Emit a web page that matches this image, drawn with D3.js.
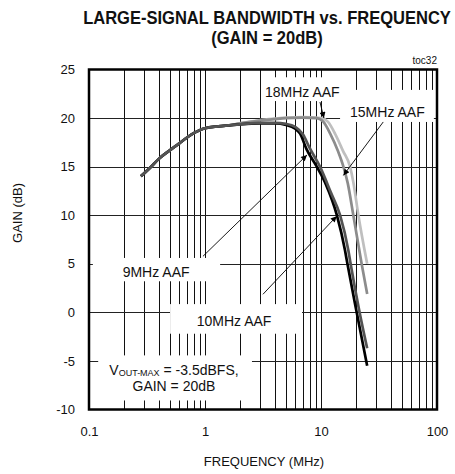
<!DOCTYPE html>
<html><head><meta charset="utf-8">
<script src="https://cdn.jsdelivr.net/npm/d3@7"></script>
<style>
body{margin:0;background:#fff}
svg{display:block}
text{font-family:"Liberation Sans",Arial,sans-serif;fill:#111}
</style>
</head><body>
<script>
// ---------- DATA (frequency MHz, gain dB) ----------
const aaf9MHz = [[0.28,14.0],[0.35,15.1],[0.4,15.8],[0.5,16.7],[0.6,17.4],[0.7,18.0],[0.8,18.45],[0.9,18.75],[1.0,18.95],[1.3,19.15],[1.6,19.25],[2.0,19.35],[3,19.45],[4,19.45],[5,19.3],[6,18.9],[6.6,18.4],[7.5,16.8],[9.2,15.0],[11,13.2],[13.7,10.0],[16.1,6.4],[16.9,5.0],[20.3,0.0],[25,-5.5]];
const aaf10MHz = [[0.28,14.0],[0.35,15.1],[0.4,15.8],[0.5,16.7],[0.6,17.4],[0.7,18.0],[0.8,18.45],[0.9,18.75],[1.0,18.95],[1.3,19.15],[1.6,19.25],[2.0,19.35],[3,19.5],[4,19.5],[5,19.4],[6,19.1],[7,18.3],[8,16.9],[9.8,15.0],[12.2,12.3],[14.6,10.0],[17.2,6.4],[18.0,5.0],[21.5,0.0],[25,-3.7]];
const aaf15MHz = [[0.28,14.0],[0.35,15.1],[0.4,15.8],[0.5,16.7],[0.6,17.4],[0.7,18.0],[0.8,18.45],[0.9,18.75],[1.0,18.95],[1.3,19.15],[1.6,19.25],[2.0,19.45],[3,19.75],[4,19.9],[5,20.0],[7,20.05],[9.2,20.0],[10.5,19.6],[12,18.4],[14,16.6],[15.6,15.0],[17,13.3],[19,10.0],[22.4,5.0],[25,1.9]];
const aaf18MHz = [[0.28,14.0],[0.35,15.1],[0.4,15.8],[0.5,16.7],[0.6,17.4],[0.7,18.0],[0.8,18.45],[0.9,18.75],[1.0,18.95],[1.3,19.15],[1.6,19.25],[2.0,19.45],[3,19.8],[4,19.95],[5,20.05],[7,20.1],[10.1,20.0],[11.5,19.6],[13.2,18.4],[15.5,16.6],[17.8,15.0],[19,13.4],[21,10.0],[25,5.0]];

const xTickValues = [0.1, 1, 10, 100];
const xTickLabels = ["0.1", "1", "10", "100"];
const yTickValues = [-10, -5, 0, 5, 10, 15, 20, 25];
const yTickLabels = ["-10", "-5", "0", "5", "10", "15", "20", "25"];

const titleLines = ["LARGE-SIGNAL BANDWIDTH vs. FREQUENCY", "(GAIN = 20dB)"];
const xTitle = "FREQUENCY (MHz)";
const yTitle = "GAIN (dB)";
const figId = "toc32";

// series drawing order & style
const seriesList = [
  {name:"18MHz AAF", data: aaf18MHz, color:"#bfbfbf"},
  {name:"15MHz AAF", data: aaf15MHz, color:"#8c8c8c"},
  {name:"9MHz AAF",  data: aaf9MHz,  color:"#000000"},
  {name:"10MHz AAF", data: aaf10MHz, color:"#535353"}
];

// annotations in data units
const labelBoxes = [
  {text:"18MHz AAF", f0:3.10, f1:15.5, g0:24.2, g1:21.75, tf:3.29, tg:22.2},
  {text:"15MHz AAF", f0:14.6, f1:94,   g0:22.9, g1:19.6,  tf:17.8, tg:20.15},
  {text:"9MHz AAF",  f0:0.108,f1:1.35, g0:5.6,  g1:3.2,   tf:0.195,tg:3.6},
  {text:"10MHz AAF", f0:0.50, f1:6.86, g0:0.85, g1:-2.2,  tf:0.848,tg:-1.45}
];
const arrows = [
  {f0:9.8,  g0:21.65, f1:10.6, g1:20.0},
  {f0:34.4, g0:19.6,  f1:15.6, g1:14.1},
  {f0:0.96, g0:5.77,  f1:7.57, g1:16.2},
  {f0:3.16, g0:1.86,  f1:13.65,g1:9.9}
];
const noteBox = {f0:0.12, f1:2.54, g0:-4.43, g1:-9.07, cf:0.54, g1line:-6.45, g2line:-8.1};

// ---------- LAYOUT ----------
const W = 455, H = 474;
const margin = {left:89, top:69.5, right:18, bottom:64.5};
const x = d3.scaleLog().domain([0.1, 100]).range([margin.left, W - margin.right]);
const y = d3.scaleLinear().domain([-10, 25]).range([H - margin.bottom, margin.top]);

const svg = d3.select("body").append("svg").attr("width", W).attr("height", H);

svg.append("defs").append("marker")
  .attr("id","arr").attr("viewBox","0 0 10 10").attr("refX",10).attr("refY",5)
  .attr("markerWidth",9).attr("markerHeight",6).attr("markerUnits","userSpaceOnUse")
  .attr("orient","auto")
  .append("path").attr("d","M0,0 L10,5 L0,10 z").attr("fill","#000");

// grid: vertical lines at every 1..9 x decade
const vGrid = [];
[0.1, 1, 10].forEach(d => { for (let k = 1; k <= 9; k++) vGrid.push(d * k); });
const vGridInner = vGrid.filter(v => v > 0.1 && v < 100);
const px = v => Math.round(x(v)) + 0.5;
const py = v => Math.round(y(v)) + 0.5;

const grid = svg.append("g");
grid.selectAll("line.v").data(vGridInner).join("line")
  .attr("x1", px).attr("x2", px)
  .attr("y1", y(25)).attr("y2", y(-10))
  .attr("stroke","#111").attr("stroke-width",1);
grid.selectAll("line.h").data(yTickValues.filter(v => v > -10 && v < 25)).join("line")
  .attr("x1", x(0.1)).attr("x2", x(100))
  .attr("y1", py).attr("y2", py)
  .attr("stroke","#222").attr("stroke-width",1);

// white boxes for labels (cover grid)
const boxes = svg.append("g");
labelBoxes.forEach(b => {
  boxes.append("rect")
    .attr("x", x(b.f0)).attr("y", y(b.g0))
    .attr("width", x(b.f1) - x(b.f0)).attr("height", y(b.g1) - y(b.g0))
    .attr("fill","#fff");
});
boxes.append("rect")
  .attr("x", x(noteBox.f0)).attr("y", y(noteBox.g0))
  .attr("width", x(noteBox.f1) - x(noteBox.f0)).attr("height", y(noteBox.g1) - y(noteBox.g0))
  .attr("fill","#fff");

// curves
const line = d3.line().x(d => x(d[0])).y(d => y(d[1])).curve(d3.curveMonotoneX);
svg.append("g").selectAll("path").data(seriesList).join("path")
  .attr("d", d => line(d.data))
  .attr("fill","none").attr("stroke", d => d.color)
  .attr("stroke-width", 2.7).attr("stroke-linejoin","round");

// arrows
svg.append("g").selectAll("line").data(arrows).join("line")
  .attr("x1", d => x(d.f0)).attr("y1", d => y(d.g0))
  .attr("x2", d => x(d.f1)).attr("y2", d => y(d.g1))
  .attr("stroke","#000").attr("stroke-width",0.9)
  .attr("marker-end","url(#arr)");

// label texts
svg.append("g").selectAll("text").data(labelBoxes).join("text")
  .attr("x", d => x(d.tf)).attr("y", d => y(d.tg))
  .attr("font-size", 14).text(d => d.text);

// note text
const note1 = svg.append("text").attr("x", x(noteBox.cf)).attr("y", y(noteBox.g1line))
  .attr("text-anchor","middle").attr("font-size",14);
note1.append("tspan").text("V");
note1.append("tspan").attr("font-size",9).attr("dy",1).text("OUT-MAX");
note1.append("tspan").attr("dy",-1).text(" = -3.5dBFS,");
svg.append("text").attr("x", x(noteBox.cf)).attr("y", y(noteBox.g2line))
  .attr("text-anchor","middle").attr("font-size",14).text("GAIN = 20dB");

// frame
svg.append("rect")
  .attr("x", x(0.1)).attr("y", y(25))
  .attr("width", x(100) - x(0.1)).attr("height", y(-10) - y(25))
  .attr("fill","none").attr("stroke","#000").attr("stroke-width",2.5);

// axes (labels only)
const xAxis = d3.axisBottom(x).tickValues(xTickValues)
  .tickFormat((d,i) => xTickLabels[i]).tickSize(0).tickPadding(17);
const gx = svg.append("g").attr("transform", `translate(0,${y(-10)})`).call(xAxis);
gx.select(".domain").remove();
gx.selectAll("text").attr("font-size",13).attr("font-family","Liberation Sans, Arial, sans-serif").attr("fill","#111");

const yAxis = d3.axisLeft(y).tickValues(yTickValues)
  .tickFormat((d,i) => yTickLabels[i]).tickSize(0).tickPadding(14);
const gy = svg.append("g").attr("transform", `translate(${x(0.1)},0)`).call(yAxis);
gy.select(".domain").remove();
gy.selectAll("text").attr("font-size",13).attr("font-family","Liberation Sans, Arial, sans-serif").attr("fill","#111");

// titles: condensed bold (horizontal squeeze), centred over the plot
const titleCx = 267, titleW = 368, titleSize = 18;
const t1 = svg.append("text").attr("text-anchor","middle")
  .attr("font-size",titleSize).attr("font-weight","bold").text(titleLines[0]);
const sx = titleW / t1.node().getComputedTextLength();
t1.attr("transform", `translate(${titleCx},23.5) scale(${sx},1)`);
svg.append("text").attr("text-anchor","middle")
  .attr("font-size",titleSize).attr("font-weight","bold")
  .attr("transform", `translate(${titleCx},43.5) scale(${sx},1)`)
  .text(titleLines[1]);

svg.append("text").attr("x", x(100)).attr("y", 64).attr("text-anchor","end")
  .attr("font-size",10).text(figId);

svg.append("text").attr("x", 264).attr("y", 466).attr("text-anchor","middle")
  .attr("font-size",13).text(xTitle);
svg.append("text").attr("transform", `translate(22,213) rotate(-90)`)
  .attr("text-anchor","middle").attr("font-size",13).text(yTitle);
</script>
</body></html>
